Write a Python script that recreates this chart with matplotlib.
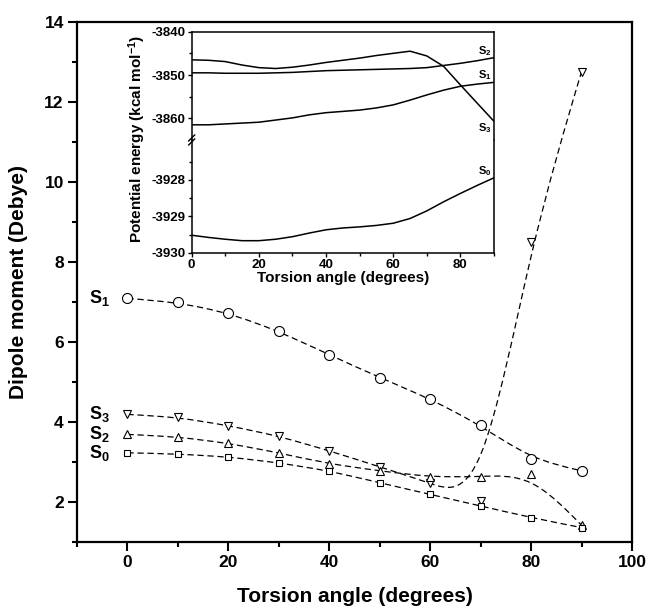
import numpy as np
import matplotlib
matplotlib.use("Agg")
import matplotlib.pyplot as plt
from matplotlib.path import Path
from matplotlib.patches import PathPatch
from matplotlib.ticker import MultipleLocator, FixedLocator

plt.rcParams['font.family'] = ['Liberation Sans', 'DejaVu Sans']
plt.rcParams['font.weight'] = 'bold'
plt.rcParams['axes.unicode_minus'] = False
plt.rcParams['mathtext.fontset'] = 'custom'
plt.rcParams['mathtext.rm'] = 'Liberation Sans:bold'
plt.rcParams['mathtext.it'] = 'Liberation Sans:bold'
plt.rcParams['mathtext.bf'] = 'Liberation Sans:bold'

# %% main plot data: dipole moment (Debye) vs torsion angle
torsion = [0, 10, 20, 30, 40, 50, 60, 70, 80, 90]
dip_s0 = [3.23, 3.20, 3.13, 2.98, 2.78, 2.48, 2.19, 1.90, 1.61, 1.36]
dip_s1 = [7.09, 6.99, 6.73, 6.27, 5.68, 5.11, 4.58, 3.92, 3.07, 2.78]
dip_s2 = [3.69, 3.63, 3.47, 3.23, 2.95, 2.78, 2.62, 2.63, 2.70, 1.42]
dip_s3 = [4.19, 4.12, 3.91, 3.65, 3.28, 2.88, 2.47, 2.03, 8.51, 12.76]

# %% inset data: potential energy (kcal/mol) vs torsion angle
inset_angle = [0, 5, 10, 15, 20, 25, 30, 35, 40, 45, 50, 55, 60, 65, 70, 75, 80, 85, 90]
pe_s3 = [-3846.5, -3846.6, -3846.9, -3847.7, -3848.3, -3848.5, -3848.2, -3847.7, -3847.1, -3846.6,
         -3846.1, -3845.5, -3845.0, -3844.5, -3845.6, -3848.0, -3852.3, -3856.5, -3860.7]
pe_s2 = [-3849.5, -3849.5, -3849.6, -3849.6, -3849.6, -3849.5, -3849.4, -3849.2, -3849.0, -3848.9,
         -3848.8, -3848.7, -3848.6, -3848.5, -3848.3, -3847.8, -3847.3, -3846.7, -3846.0]
pe_s1 = [-3861.5, -3861.5, -3861.3, -3861.1, -3860.9, -3860.4, -3859.9, -3859.2, -3858.7, -3858.4,
         -3858.1, -3857.6, -3856.9, -3855.8, -3854.6, -3853.5, -3852.6, -3852.1, -3851.7]
pe_s0 = [-3929.52, -3929.58, -3929.63, -3929.67, -3929.67, -3929.63, -3929.56, -3929.46, -3929.37, -3929.32,
         -3929.29, -3929.25, -3929.19, -3929.06, -3928.85, -3928.60, -3928.37, -3928.15, -3927.94]


def bspline_path(x, y):
    # B-spline connection (like Origin) written as cubic bezier pieces
    p = np.column_stack([x, y]).astype(float)
    q = np.vstack([2*p[0] - p[1], p, 2*p[-1] - p[-2]])
    verts = [(q[0] + 4*q[1] + q[2]) / 6]
    for i in range(1, len(q) - 2):
        verts.append((2*q[i] + q[i+1]) / 3)
        verts.append((q[i] + 2*q[i+1]) / 3)
        verts.append((q[i] + 4*q[i+1] + q[i+2]) / 6)
    codes = [Path.MOVETO] + [Path.CURVE4] * (len(verts) - 1)
    return Path(verts, codes)


fig = plt.figure(figsize=(6.5, 6.07), dpi=100)
ax = fig.add_axes([0.1185, 0.1071, 0.8538, 0.8567])

series = [
    (dip_s1, 'o', 7.2, r'S$_1$'),
    (dip_s3, 'v', 5.2, r'S$_3$'),
    (dip_s2, '^', 5.2, r'S$_2$'),
    (dip_s0, 's', 3.8, r'S$_0$'),
]
for vals, mk, ms, lab in series:
    ax.add_patch(PathPatch(bspline_path(torsion, vals), fill=False, edgecolor='black',
                           lw=0.9, linestyle=(0, (5, 3)), zorder=2))
    ax.plot(torsion, vals, linestyle='none', marker=mk, markersize=ms, markerfacecolor='white',
            markeredgecolor='black', markeredgewidth=0.8, zorder=3)
    ax.annotate(lab, xy=(torsion[0], vals[0]), xytext=(-13, 0), textcoords='offset points',
                ha='right', va='center', fontsize=13, fontweight='bold')

ax.set_xlim(-10, 100)
ax.set_ylim(1, 14)
ax.xaxis.set_major_locator(MultipleLocator(20))
ax.xaxis.set_minor_locator(MultipleLocator(10))
ax.yaxis.set_major_locator(MultipleLocator(2))
ax.yaxis.set_minor_locator(MultipleLocator(1))
ax.tick_params(which='both', direction='out', width=1.5, labelsize=12.5, pad=3)
ax.tick_params(which='major', length=6.5)
ax.tick_params(which='minor', length=3.5)
for sp in ax.spines.values():
    sp.set_linewidth(1.6)
ax.set_xlabel('Torsion angle (degrees)', fontsize=15, fontweight='bold', labelpad=12)
ax.set_ylabel('Dipole moment (Debye)', fontsize=15, fontweight='bold', labelpad=12)

# %% inset with broken y axis
ax_top = fig.add_axes([0.2949, 0.7694, 0.4651, 0.1784])
ax_bot = fig.add_axes([0.2949, 0.5837, 0.4651, 0.1857])

for pe in (pe_s3, pe_s2, pe_s1):
    ax_top.plot(inset_angle, pe, color='black', lw=1.1)
ax_bot.plot(inset_angle, pe_s0, color='black', lw=1.1)

ax_top.set_ylim(-3865, -3840)
ax_bot.set_ylim(-3930, -3926.9)
for a in (ax_top, ax_bot):
    a.set_xlim(0, 90)
    a.xaxis.set_major_locator(MultipleLocator(20))
    a.xaxis.set_minor_locator(MultipleLocator(10))
    a.tick_params(which='both', direction='out', width=1, labelsize=9.5, pad=1.5)
    a.tick_params(which='major', length=3)
    a.tick_params(which='minor', length=2)
    for sp in a.spines.values():
        sp.set_linewidth(1.1)

ax_top.set_yticks([-3860, -3850, -3840])
ax_top.yaxis.set_minor_locator(FixedLocator([-3855, -3845]))
ax_top.spines['bottom'].set_visible(False)
ax_top.tick_params(which='both', bottom=False, labelbottom=False)

ax_bot.set_yticks([-3930, -3929, -3928])
ax_bot.yaxis.set_minor_locator(FixedLocator([-3929.5, -3928.5, -3927.5]))
ax_bot.spines['top'].set_visible(False)
ax_bot.set_xlabel('Torsion angle (degrees)', fontsize=11, fontweight='bold', labelpad=0)

fig.text(137/650, 1 - 139/607, r'Potential energy (kcal mol$^{-1}$)', rotation=90,
         ha='center', va='center', fontsize=11, fontweight='bold')

# break marks on the inset y axis
x0, y0 = 0.2949, 0.7694
for off in (-2/607, 2/607):
    fig.add_artist(plt.Line2D([x0 - 3/650, x0 + 3/650], [y0 + off - 3/607, y0 + off + 3/607],
                              transform=fig.transFigure, color='black', lw=1))

# state labels at the right end of the inset curves
inset_labels = [
    (ax_top, pe_s2, r'S$_2$', 5),
    (ax_top, pe_s1, r'S$_1$', 5),
    (ax_top, pe_s3, r'S$_3$', -5),
    (ax_bot, pe_s0, r'S$_0$', 5),
]
for a, pe, lab, dy in inset_labels:
    a.annotate(lab, xy=(inset_angle[-1], pe[-1]), xytext=(-2, dy), textcoords='offset points',
               ha='right', va='center', fontsize=8, fontweight='bold')

fig.savefig('out.png', dpi=100)
